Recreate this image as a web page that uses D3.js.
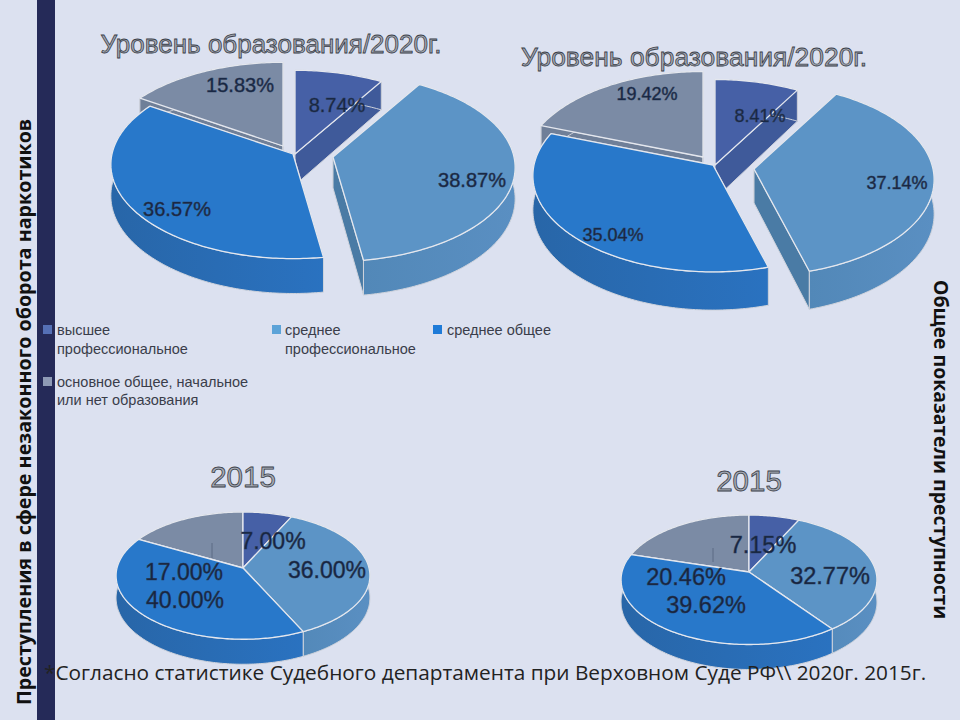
<!DOCTYPE html>
<html><head><meta charset="utf-8">
<script src="https://cdn.jsdelivr.net/npm/d3@7"></script>
<style>html,body{margin:0;padding:0;background:#dce1f0}svg{display:block}</style>
</head><body><svg id="c" width="960" height="720"></svg>
<script>
const categories = ["высшее профессиональное","среднее профессиональное","среднее общее","основное общее, начальное или нет образования"];
const values2020Drug = [8.74,38.87,36.57,15.83];
const values2020All = [8.41,37.14,35.04,19.42];
const values2015Drug = [7.00,36.00,40.00,17.00];
const values2015All = [7.15,32.77,39.62,20.46];
const chartTitle2020 = "Уровень образования/2020г.";
const chartTitle2015 = "2015";
const leftCaption = "Преступления в сфере незаконного оборота наркотиков";
const rightCaption = "Общее показатели преступности";
const footnote = "*Согласно статистике Судебного департамента при Верховном Суде РФ\\\\ 2020г. 2015г.";

const topColors = ["#4660a6","#5c94c6","#2878ca","#7b8ba5"];
const wallLeft  = ["#3f5a9a","#5288b8","#2866a8","#6f7f98"];
const wallRight = ["#3f5a9a","#5a8fc2","#2a72c0","#6f7f98"];
const cutColors = ["#3f5a9a","#4a7ba5","#2866a8","#6f7f98"];
const swatchColors = ["#5570b5","#5ca3d8","#1f7bd8","#8e9ab5"];
const drawOrder = [3,0,1,2];

const layouts = [
 {values:values2020Drug,title:chartTitle2020,titlePos:[271,53],titleSize:26,cx:293,cy:154,rx:181,ry:93,k:.111,depth:31,
  explode:[[2,0],[40,3],[0,0],[-10,-8]],labelSize:20,labels:[[337,105],[472,180],[177,209],[240,85]]},
 {values:values2020All,title:chartTitle2020,titlePos:[694,66],titleSize:26.4,cx:713,cy:165,rx:179,ry:95,k:.111,depth:34,
  explode:[[2,0],[41,4],[0,0],[-10,-8]],labelSize:18,labels:[[760,116],[897,183],[613,235],[647,94]]},
 {values:values2015Drug,title:chartTitle2015,titlePos:[243,487],titleSize:29.5,cx:243,cy:568,rx:126,ry:62.7,k:.12,depth:22,
  explode:[[0,0],[0,0],[0,0],[0,0]],labelSize:23,labels:[[273,541],[327,570],[185,600],[184,572]],leader:[212,543,558]},
 {values:values2015All,title:chartTitle2015,titlePos:[749,491],titleSize:29.5,cx:749,cy:572,rx:127,ry:63.8,k:.12,depth:22,
  explode:[[0,0],[0,0],[0,0],[0,0]],labelSize:23.5,labels:[[763,545],[830,576],[706,605],[686,577]],leader:[713,548,562]}
];

const svg = d3.select("#c");
const defs = svg.append("defs");
d3.range(4).forEach(i=>{
  const g = defs.append("linearGradient").attr("id","wall"+i);
  g.append("stop").attr("offset","0%").attr("stop-color",wallLeft[i]);
  g.append("stop").attr("offset","100%").attr("stop-color",wallRight[i]);
});
svg.append("rect").attr("width",960).attr("height",720).attr("fill","#dce1f0");
svg.append("rect").attr("x",37).attr("y",0).attr("width",18).attr("height",720).attr("fill","#252a58");

const SANS = "'Liberation Sans',sans-serif";
const line = d3.line();
const pie = d3.pie().sort(null).value(d=>d);

layouts.forEach(L=>{
  const g = svg.append("g");
  const angleScale = d3.scaleLinear().domain([0,1]);
  const project = (a,r,ox,oy,drop)=>{
    const X = r*Math.sin(a), Y = r*Math.cos(a), w = 1+L.k*Y;
    return [L.cx+ox+L.rx*X/w, L.cy+oy-L.ry*Y/w+drop/w];
  };
  const arcs = pie(L.values);
  drawOrder.forEach(i=>{
    const s = arcs[i], [ox,oy] = L.explode[i];
    angleScale.range([s.startAngle,s.endAngle]);
    const ts = d3.range(0,1.0001,1/Math.max(8,Math.round((s.endAngle-s.startAngle)*60))).map(angleScale);
    const rim = ts.map(a=>project(a,1,ox,oy,0));
    const rimLow = ts.map(a=>project(a,1,ox,oy,L.depth));
    const c0 = project(0,0,ox,oy,0), c1 = project(0,0,ox,oy,L.depth);
    const face = pts=>line(pts)+"Z";
    const edge = {stroke:"#cfd3dc","stroke-width":1};
    [[c0,rim[0],rimLow[0],c1],[c0,rim[rim.length-1],rimLow[rim.length-1],c1]].forEach(q=>{
      g.append("path").attr("d",face(q)).attr("fill",cutColors[i]).attr("stroke",edge.stroke).attr("stroke-width",edge["stroke-width"]);
    });
    g.append("path").attr("d",face(rim.concat(rimLow.slice().reverse())))
      .attr("fill",`url(#wall${i})`).attr("stroke",edge.stroke).attr("stroke-width",edge["stroke-width"]);
    g.append("path").attr("d",face([c0].concat(rim))).attr("fill",topColors[i])
      .attr("stroke","#e4e7ee").attr("stroke-width",1.3).attr("stroke-linejoin","round");
  });
  if(L.leader) g.append("line").attr("x1",L.leader[0]).attr("x2",L.leader[0]).attr("y1",L.leader[1]).attr("y2",L.leader[2])
      .attr("stroke","#5d6a84").attr("stroke-width",1);
  L.values.forEach((v,i)=>{
    g.append("text").attr("x",L.labels[i][0]).attr("y",L.labels[i][1]).attr("dy","0.36em")
      .attr("text-anchor","middle").attr("font-family",SANS).attr("font-size",L.labelSize)
      .attr("fill","#14233f").attr("stroke","#2a3a55").attr("stroke-width",0.5)
      .text(d3.format(".2f")(v)+"%");
  });
  g.append("text").attr("x",L.titlePos[0]).attr("y",L.titlePos[1]).attr("text-anchor","middle")
    .attr("font-family",SANS).attr("font-size",L.titleSize).attr("fill","#a5aab5")
    .attr("stroke","#3a3e48").attr("stroke-width",0.8).text(L.title);
});

// legend
const legendItems = [
 {i:0,x:43,y:325,tx:57,lines:["высшее","профессиональное"],ty:[335,354]},
 {i:1,x:272,y:325,tx:285,lines:["среднее","профессиональное"],ty:[335,354]},
 {i:2,x:433,y:325,tx:447,lines:["среднее общее"],ty:[335]},
 {i:3,x:43,y:377,tx:57,lines:["основное общее, начальное","или нет образования"],ty:[387,405]}
];
legendItems.forEach(d=>{
  svg.append("rect").attr("x",d.x).attr("y",d.y).attr("width",9).attr("height",9).attr("fill",swatchColors[d.i]);
  d.lines.forEach((t,j)=>svg.append("text").attr("x",d.tx).attr("y",d.ty[j]).attr("font-family",SANS)
    .attr("font-size",14.5).attr("fill","#3a3d4a").text(t));
});

// captions
svg.append("text").attr("transform","translate(31,705) rotate(-90)").attr("font-family","'Open Sans',sans-serif")
  .attr("font-weight",700).attr("font-size",19.7).attr("fill","#111").text(leftCaption);
svg.append("text").attr("transform","translate(934,280) rotate(90)").attr("font-family","'Open Sans',sans-serif")
  .attr("font-weight",700).attr("font-size",19.4).attr("fill","#111").text(rightCaption);
svg.append("text").attr("x",44).attr("y",680).attr("font-family","'Open Sans',sans-serif")
  .attr("font-size",20.8).attr("fill","#222").text(footnote);
</script></body></html>
